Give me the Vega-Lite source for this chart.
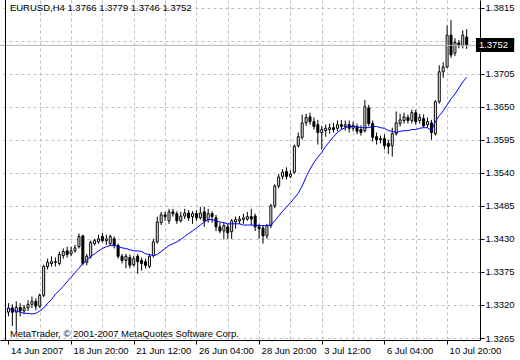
{
"$schema": "https://vega.github.io/schema/vega-lite/v6.json",
"width": 480, "height": 340,
"autosize": {"type": "none"},
"padding": {"left": 0, "top": 0, "right": 40, "bottom": 20},
"background": "white",
"config": {
 "view": {"stroke": null},
 "font": "Liberation Sans",
 "axis": {"title": null, "labelOverlap": false, "labelFlush": false, "labelBound": false, "tickCount": 60,
  "domainColor": "black", "domainWidth": 1, "tickColor": "black", "tickSize": 4,
  "grid": true, "gridColor": "#c0c0c0", "gridDash": [3, 3],
  "labelFont": "Liberation Sans", "labelFontSize": 9.5, "labelColor": "black"},
 "axisY": {"labelPadding": 1},
 "axisX": {"labelPadding": 1}
},
"data": {"values": [
{"i":0,"o":1.3308,"h":1.3323,"l":1.3301,"c":1.3315,"ma":1.3315},
{"i":1,"o":1.3315,"h":1.3321,"l":1.3285,"c":1.3308,"ma":1.3311},
{"i":2,"o":1.3308,"h":1.3326,"l":1.3277,"c":1.3316,"ma":1.3310},
{"i":3,"o":1.3316,"h":1.3323,"l":1.3301,"c":1.3310,"ma":1.3308},
{"i":4,"o":1.3310,"h":1.3320,"l":1.3305,"c":1.3315,"ma":1.3306},
{"i":5,"o":1.3315,"h":1.3328,"l":1.3310,"c":1.3321,"ma":1.3306},
{"i":6,"o":1.3321,"h":1.3334,"l":1.3315,"c":1.3326,"ma":1.3305},
{"i":7,"o":1.3326,"h":1.3331,"l":1.3311,"c":1.3318,"ma":1.3306},
{"i":8,"o":1.3318,"h":1.3339,"l":1.3315,"c":1.3336,"ma":1.3310},
{"i":9,"o":1.3336,"h":1.3387,"l":1.3333,"c":1.3384,"ma":1.3315},
{"i":10,"o":1.3384,"h":1.3397,"l":1.3379,"c":1.3391,"ma":1.3323},
{"i":11,"o":1.3389,"h":1.3401,"l":1.3384,"c":1.3392,"ma":1.3329},
{"i":12,"o":1.3392,"h":1.3399,"l":1.3384,"c":1.3391,"ma":1.3338},
{"i":13,"o":1.3389,"h":1.3409,"l":1.3386,"c":1.3404,"ma":1.3344},
{"i":14,"o":1.3402,"h":1.3414,"l":1.3397,"c":1.3409,"ma":1.3351},
{"i":15,"o":1.3410,"h":1.3417,"l":1.3399,"c":1.3404,"ma":1.3359},
{"i":16,"o":1.3405,"h":1.3417,"l":1.3401,"c":1.3410,"ma":1.3366},
{"i":17,"o":1.3410,"h":1.3420,"l":1.3407,"c":1.3415,"ma":1.3374},
{"i":18,"o":1.3417,"h":1.3439,"l":1.3414,"c":1.3434,"ma":1.3381},
{"i":19,"o":1.3435,"h":1.3437,"l":1.3386,"c":1.3389,"ma":1.3389},
{"i":20,"o":1.3391,"h":1.3405,"l":1.3386,"c":1.3401,"ma":1.3394},
{"i":21,"o":1.3401,"h":1.3427,"l":1.3397,"c":1.3424,"ma":1.3401},
{"i":22,"o":1.3422,"h":1.3430,"l":1.3419,"c":1.3427,"ma":1.3405},
{"i":23,"o":1.3425,"h":1.3437,"l":1.3422,"c":1.3430,"ma":1.3410},
{"i":24,"o":1.3434,"h":1.3440,"l":1.3424,"c":1.3427,"ma":1.3414},
{"i":25,"o":1.3427,"h":1.3437,"l":1.3420,"c":1.3430,"ma":1.3417},
{"i":26,"o":1.3422,"h":1.3437,"l":1.3419,"c":1.3434,"ma":1.3419},
{"i":27,"o":1.3430,"h":1.3434,"l":1.3414,"c":1.3419,"ma":1.3419},
{"i":28,"o":1.3419,"h":1.3422,"l":1.3397,"c":1.3401,"ma":1.3417},
{"i":29,"o":1.3401,"h":1.3405,"l":1.3389,"c":1.3394,"ma":1.3415},
{"i":30,"o":1.3394,"h":1.3405,"l":1.3381,"c":1.3401,"ma":1.3414},
{"i":31,"o":1.3399,"h":1.3404,"l":1.3381,"c":1.3386,"ma":1.3412},
{"i":32,"o":1.3387,"h":1.3402,"l":1.3384,"c":1.3397,"ma":1.3410},
{"i":33,"o":1.3401,"h":1.3405,"l":1.3372,"c":1.3392,"ma":1.3410},
{"i":34,"o":1.3394,"h":1.3399,"l":1.3377,"c":1.3389,"ma":1.3409},
{"i":35,"o":1.3392,"h":1.3397,"l":1.3381,"c":1.3386,"ma":1.3405},
{"i":36,"o":1.3384,"h":1.3405,"l":1.3381,"c":1.3401,"ma":1.3404},
{"i":37,"o":1.3402,"h":1.3430,"l":1.3399,"c":1.3425,"ma":1.3402},
{"i":38,"o":1.3425,"h":1.3467,"l":1.3422,"c":1.3458,"ma":1.3404},
{"i":39,"o":1.3457,"h":1.3475,"l":1.3453,"c":1.3470,"ma":1.3409},
{"i":40,"o":1.3470,"h":1.3475,"l":1.3460,"c":1.3467,"ma":1.3414},
{"i":41,"o":1.3460,"h":1.3480,"l":1.3455,"c":1.3475,"ma":1.3419},
{"i":42,"o":1.3475,"h":1.3480,"l":1.3467,"c":1.3472,"ma":1.3422},
{"i":43,"o":1.3472,"h":1.3476,"l":1.3455,"c":1.3460,"ma":1.3425},
{"i":44,"o":1.3460,"h":1.3475,"l":1.3457,"c":1.3468,"ma":1.3429},
{"i":45,"o":1.3468,"h":1.3480,"l":1.3463,"c":1.3473,"ma":1.3434},
{"i":46,"o":1.3473,"h":1.3478,"l":1.3460,"c":1.3465,"ma":1.3439},
{"i":47,"o":1.3467,"h":1.3476,"l":1.3455,"c":1.3472,"ma":1.3443},
{"i":48,"o":1.3472,"h":1.3478,"l":1.3460,"c":1.3465,"ma":1.3448},
{"i":49,"o":1.3465,"h":1.3483,"l":1.3462,"c":1.3473,"ma":1.3453},
{"i":50,"o":1.3475,"h":1.3483,"l":1.3450,"c":1.3460,"ma":1.3458},
{"i":51,"o":1.3462,"h":1.3480,"l":1.3457,"c":1.3472,"ma":1.3462},
{"i":52,"o":1.3472,"h":1.3476,"l":1.3457,"c":1.3467,"ma":1.3462},
{"i":53,"o":1.3465,"h":1.3470,"l":1.3443,"c":1.3450,"ma":1.3460},
{"i":54,"o":1.3450,"h":1.3457,"l":1.3439,"c":1.3443,"ma":1.3458},
{"i":55,"o":1.3443,"h":1.3457,"l":1.3429,"c":1.3452,"ma":1.3457},
{"i":56,"o":1.3450,"h":1.3455,"l":1.3430,"c":1.3440,"ma":1.3455},
{"i":57,"o":1.3442,"h":1.3463,"l":1.3430,"c":1.3460,"ma":1.3455},
{"i":58,"o":1.3458,"h":1.3467,"l":1.3447,"c":1.3462,"ma":1.3455},
{"i":59,"o":1.3460,"h":1.3468,"l":1.3455,"c":1.3463,"ma":1.3455},
{"i":60,"o":1.3462,"h":1.3472,"l":1.3455,"c":1.3465,"ma":1.3453},
{"i":61,"o":1.3463,"h":1.3475,"l":1.3460,"c":1.3467,"ma":1.3453},
{"i":62,"o":1.3467,"h":1.3480,"l":1.3453,"c":1.3463,"ma":1.3453},
{"i":63,"o":1.3468,"h":1.3472,"l":1.3443,"c":1.3450,"ma":1.3452},
{"i":64,"o":1.3450,"h":1.3455,"l":1.3430,"c":1.3447,"ma":1.3452},
{"i":65,"o":1.3448,"h":1.3453,"l":1.3422,"c":1.3435,"ma":1.3452},
{"i":66,"o":1.3435,"h":1.3455,"l":1.3430,"c":1.3452,"ma":1.3452},
{"i":67,"o":1.3452,"h":1.3488,"l":1.3448,"c":1.3485,"ma":1.3453},
{"i":68,"o":1.3485,"h":1.3521,"l":1.3481,"c":1.3518,"ma":1.3460},
{"i":69,"o":1.3518,"h":1.3538,"l":1.3514,"c":1.3533,"ma":1.3468},
{"i":70,"o":1.3534,"h":1.3546,"l":1.3529,"c":1.3541,"ma":1.3476},
{"i":71,"o":1.3542,"h":1.3549,"l":1.3529,"c":1.3534,"ma":1.3483},
{"i":72,"o":1.3534,"h":1.3544,"l":1.3531,"c":1.3538,"ma":1.3490},
{"i":73,"o":1.3541,"h":1.3587,"l":1.3538,"c":1.3584,"ma":1.3498},
{"i":74,"o":1.3585,"h":1.3607,"l":1.3582,"c":1.3600,"ma":1.3506},
{"i":75,"o":1.3599,"h":1.3637,"l":1.3595,"c":1.3623,"ma":1.3518},
{"i":76,"o":1.3623,"h":1.3638,"l":1.3618,"c":1.3632,"ma":1.3533},
{"i":77,"o":1.3633,"h":1.3640,"l":1.3620,"c":1.3625,"ma":1.3546},
{"i":78,"o":1.3625,"h":1.3632,"l":1.3612,"c":1.3617,"ma":1.3557},
{"i":79,"o":1.3620,"h":1.3628,"l":1.3587,"c":1.3607,"ma":1.3566},
{"i":80,"o":1.3607,"h":1.3618,"l":1.3579,"c":1.3612,"ma":1.3574},
{"i":81,"o":1.3610,"h":1.3620,"l":1.3600,"c":1.3614,"ma":1.3584},
{"i":82,"o":1.3612,"h":1.3622,"l":1.3605,"c":1.3615,"ma":1.3592},
{"i":83,"o":1.3615,"h":1.3623,"l":1.3607,"c":1.3612,"ma":1.3600},
{"i":84,"o":1.3614,"h":1.3627,"l":1.3609,"c":1.3620,"ma":1.3607},
{"i":85,"o":1.3620,"h":1.3628,"l":1.3612,"c":1.3617,"ma":1.3612},
{"i":86,"o":1.3617,"h":1.3627,"l":1.3610,"c":1.3620,"ma":1.3615},
{"i":87,"o":1.3620,"h":1.3627,"l":1.3607,"c":1.3614,"ma":1.3617},
{"i":88,"o":1.3614,"h":1.3625,"l":1.3609,"c":1.3619,"ma":1.3617},
{"i":89,"o":1.3617,"h":1.3622,"l":1.3604,"c":1.3609,"ma":1.3617},
{"i":90,"o":1.3612,"h":1.3619,"l":1.3602,"c":1.3607,"ma":1.3615},
{"i":91,"o":1.3610,"h":1.3661,"l":1.3607,"c":1.3650,"ma":1.3615},
{"i":92,"o":1.3648,"h":1.3653,"l":1.3617,"c":1.3622,"ma":1.3615},
{"i":93,"o":1.3622,"h":1.3627,"l":1.3592,"c":1.3599,"ma":1.3617},
{"i":94,"o":1.3600,"h":1.3607,"l":1.3587,"c":1.3595,"ma":1.3617},
{"i":95,"o":1.3595,"h":1.3602,"l":1.3589,"c":1.3597,"ma":1.3615},
{"i":96,"o":1.3597,"h":1.3604,"l":1.3579,"c":1.3585,"ma":1.3614},
{"i":97,"o":1.3589,"h":1.3595,"l":1.3571,"c":1.3584,"ma":1.3610},
{"i":98,"o":1.3585,"h":1.3615,"l":1.3567,"c":1.3605,"ma":1.3609},
{"i":99,"o":1.3605,"h":1.3642,"l":1.3602,"c":1.3623,"ma":1.3607},
{"i":100,"o":1.3622,"h":1.3638,"l":1.3617,"c":1.3628,"ma":1.3609},
{"i":101,"o":1.3627,"h":1.3640,"l":1.3622,"c":1.3633,"ma":1.3610},
{"i":102,"o":1.3632,"h":1.3637,"l":1.3622,"c":1.3627,"ma":1.3610},
{"i":103,"o":1.3627,"h":1.3645,"l":1.3622,"c":1.3640,"ma":1.3612},
{"i":104,"o":1.3640,"h":1.3645,"l":1.3620,"c":1.3625,"ma":1.3612},
{"i":105,"o":1.3627,"h":1.3638,"l":1.3622,"c":1.3632,"ma":1.3614},
{"i":106,"o":1.3630,"h":1.3637,"l":1.3615,"c":1.3618,"ma":1.3615},
{"i":107,"o":1.3620,"h":1.3632,"l":1.3615,"c":1.3625,"ma":1.3615},
{"i":108,"o":1.3623,"h":1.3628,"l":1.3595,"c":1.3607,"ma":1.3610},
{"i":109,"o":1.3605,"h":1.3661,"l":1.3602,"c":1.3658,"ma":1.3625},
{"i":110,"o":1.3658,"h":1.3719,"l":1.3655,"c":1.3708,"ma":1.3635},
{"i":111,"o":1.3708,"h":1.3724,"l":1.3698,"c":1.3716,"ma":1.3643},
{"i":112,"o":1.3716,"h":1.3785,"l":1.3714,"c":1.3769,"ma":1.3653},
{"i":113,"o":1.3769,"h":1.3794,"l":1.3731,"c":1.3736,"ma":1.3663},
{"i":114,"o":1.3739,"h":1.3764,"l":1.3734,"c":1.3757,"ma":1.3671},
{"i":115,"o":1.3756,"h":1.3761,"l":1.3747,"c":1.3752,"ma":1.3681},
{"i":116,"o":1.3752,"h":1.3777,"l":1.3747,"c":1.3769,"ma":1.3691},
{"i":117,"o":1.3766,"h":1.3779,"l":1.3746,"c":1.3752,"ma":1.3699}
]},
"layer": [
{
"mark": {"type": "rule", "color": "black", "strokeWidth": 1},
"encoding": {
"x": {"field": "i", "type": "quantitative",
 "scale": {"domain": [-0.875, 119.125], "nice": false, "zero": false},
 "axis": {"orient": "bottom", "tickCount": 60,
  "values": [0,8,16,24,32,40,48,56,64,72,80,88,96,104,112],
  "tickOpacity": {"condition": {"test": "datum.value % 16 === 0", "value": 1}, "value": 0},
  "gridOpacity": {"condition": {"test": "datum.value === 0", "value": 0}, "value": 1},
  "labelExpr": "datum.value==0?'14 Jun 2007':datum.value==16?'18 Jun 20:00':datum.value==32?'21 Jun 12:00':datum.value==48?'26 Jun 04:00':datum.value==64?'28 Jun 20:00':datum.value==80?'3 Jul 12:00':datum.value==96?'6 Jul 04:00':datum.value==112?'10 Jul 20:00':''",
  "labelAlign": "left", "labelBaseline": "top", "labelOffset": 2}},
"y": {"field": "l", "type": "quantitative",
 "scale": {"domain": [1.32617, 1.38275], "nice": false, "zero": false},
 "axis": {"orient": "right", "tickCount": 60,
  "values": [1.3265,1.3320,1.3375,1.3430,1.3485,1.3540,1.3595,1.3650,1.3705,1.3760,1.3815],
  "format": ".4f"}},
"y2": {"field": "h"}
}
},
{
"mark": {"type": "bar", "width": 2, "stroke": "black", "strokeWidth": 1, "orient": "vertical"},
"encoding": {
"x": {"field": "i", "type": "quantitative"},
"y": {"field": "o", "type": "quantitative"},
"y2": {"field": "c"},
"fill": {"condition": {"test": "datum.c >= datum.o", "value": "white"}, "value": "black"}
}
},
{
"mark": {"type": "line", "color": "#0000ff", "strokeWidth": 1},
"encoding": {
"x": {"field": "i", "type": "quantitative"},
"y": {"field": "ma", "type": "quantitative"}
}
},
{
"data": {"values": [{}]},
"mark": {"type": "rule", "color": "#b4b4b4", "strokeWidth": 1},
"encoding": {"y": {"datum": 1.3752, "type": "quantitative"}}
},
{
"data": {"values": [{}]},
"mark": {"type": "rule", "color": "black", "strokeWidth": 1},
"encoding": {"x": {"datum": -0.75, "type": "quantitative"}}
},
{
"data": {"values": [{}]},
"mark": {"type": "rect", "color": "black", "clip": false},
"encoding": {
"x": {"datum": 119.375, "type": "quantitative"},
"x2": {"datum": 129.125},
"y": {"datum": 1.37643, "type": "quantitative"},
"y2": {"datum": 1.37410}
}
},
{
"data": {"values": [{"label": "1.3752"}]},
"mark": {"type": "text", "color": "white", "align": "left", "baseline": "middle", "fontSize": 9.5, "font": "Liberation Sans"},
"encoding": {
"text": {"field": "label"},
"x": {"datum": 120.125, "type": "quantitative"},
"y": {"datum": 1.3752, "type": "quantitative"}
}
},
{
"data": {"values": [{"label": "EURUSD,H4  1.3766 1.3779 1.3746 1.3752"}]},
"mark": {"type": "text", "color": "black", "align": "left", "baseline": "middle", "fontSize": 9.5, "font": "Liberation Sans"},
"encoding": {
"text": {"field": "label"},
"x": {"datum": 0.375, "type": "quantitative"},
"y": {"datum": 1.38142, "type": "quantitative"}
}
},
{
"data": {"values": [{"label": "MetaTrader, © 2001-2007 MetaQuotes Software Corp."}]},
"mark": {"type": "text", "color": "black", "align": "left", "baseline": "middle", "fontSize": 9.5, "font": "Liberation Sans"},
"encoding": {
"text": {"field": "label"},
"x": {"datum": 0.375, "type": "quantitative"},
"y": {"datum": 1.32717, "type": "quantitative"}
}
}
]
}
